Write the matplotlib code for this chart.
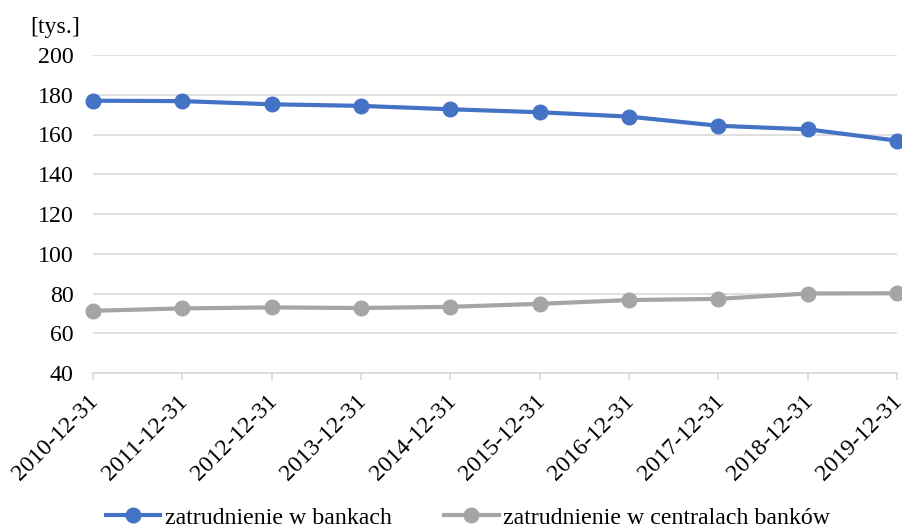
import matplotlib.pyplot as plt
from matplotlib.transforms import ScaledTranslation

plt.rcParams['font.family'] = ['Liberation Serif', 'DejaVu Serif']

dates = ["2010-12-31", "2011-12-31", "2012-12-31", "2013-12-31", "2014-12-31",
         "2015-12-31", "2016-12-31", "2017-12-31", "2018-12-31", "2019-12-31"]
banki = [177.0, 176.8, 175.2, 174.4, 172.7, 171.2, 169.0, 164.4, 162.6, 156.9]
centrale = [71.3, 72.5, 73.0, 72.7, 73.3, 74.8, 76.7, 77.3, 80.0, 80.1]

fs = 17.2
fig = plt.figure(figsize=(9.03, 5.31), dpi=100)
ax = fig.add_axes([93 / 903, 1 - 373 / 531, 804 / 903, 318 / 531])

x = range(len(dates))
ax.plot(x, banki, color="#4472C4", lw=3, marker="o", ms=10.5,
        label="zatrudnienie w bankach", clip_on=False, zorder=3)
ax.plot(x, centrale, color="#A5A5A5", lw=3, marker="o", ms=10.5,
        label="zatrudnienie w centralach banków", clip_on=False, zorder=3)

ax.set_xlim(0, len(dates) - 1)
ax.set_ylim(40, 200)
ax.set_yticks(range(40, 201, 20))
ax.grid(axis="y", color="#D9D9D9", lw=1.2)
ax.set_axisbelow(True)
for s in ["top", "right", "left"]:
    ax.spines[s].set_visible(False)
ax.spines["bottom"].set_color("#D9D9D9")
ax.spines["bottom"].set_linewidth(1.2)

ax.set_xticks(list(x))
ax.set_xticklabels(dates, rotation=45, ha="right", va="top", rotation_mode="anchor")
ax.tick_params(axis="x", length=5, color="#D9D9D9", width=1.2, labelsize=fs, pad=8)
ax.tick_params(axis="y", length=0, labelsize=fs, pad=14)
# nudge the rotated date labels a little to the left
shift = ScaledTranslation(-5 / 100, 0, fig.dpi_scale_trans)
for lab in ax.get_xticklabels():
    lab.set_transform(lab.get_transform() + shift)

fig.text(30 / 903, 1 - 27 / 531, "[tys.]", fontsize=fs, va="center")

fig.legend(loc="lower center", bbox_to_anchor=(0.518, -0.036), ncol=2, frameon=False,
           fontsize=fs, handlelength=2.3, handletextpad=0.17, columnspacing=2.2)

fig.savefig("out.png", dpi=100)
